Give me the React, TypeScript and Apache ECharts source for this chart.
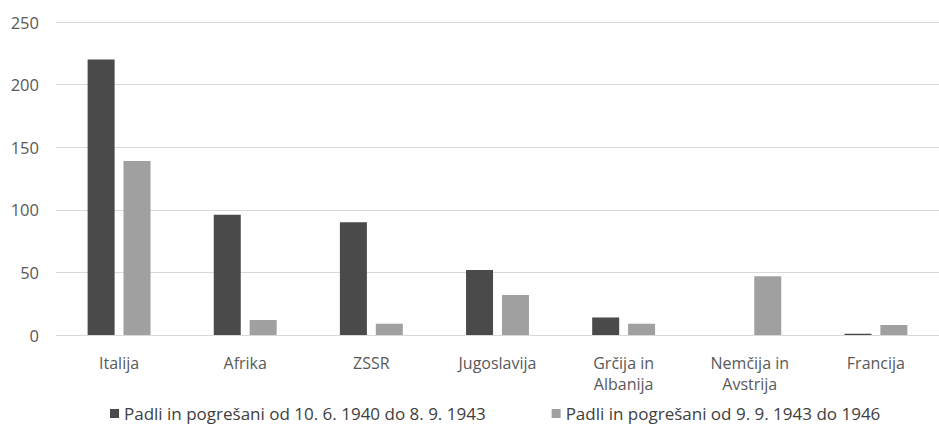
import React, { useEffect, useRef } from "react";
import * as echarts from "echarts";

const categories = [
  "Italija",
  "Afrika",
  "ZSSR",
  "Jugoslavija",
  "Grčija in\nAlbanija",
  "Nemčija in\nAvstrija",
  "Francija",
];
const seriesNames = [
  "Padli in pogrešani od 10. 6. 1940 do 8. 9. 1943",
  "Padli in pogrešani od 9. 9. 1943 do 1946",
];
const period1 = [220, 96, 90, 52, 14, 0, 1];
const period2 = [139, 12, 9, 32, 9, 47, 8];
const yTicks = [0, 50, 100, 150, 200, 250];

const FONT = "Open Sans";

export default function App() {
  const ref = useRef<HTMLDivElement>(null);
  useEffect(() => {
    if (!ref.current) return;
    const chart = echarts.init(ref.current, null, { renderer: "svg" });
    chart.setOption({
      animation: false,
      backgroundColor: "#ffffff",
      textStyle: { fontFamily: FONT },
      grid: { left: 56, right: 0, top: 22, bottom: 98, containLabel: false },
      legend: {
        top: 400,
        left: 105,
        icon: "rect",
        itemWidth: 9,
        itemHeight: 9,
        itemGap: 66,
        textStyle: { fontFamily: FONT, fontSize: 17, color: "#404040" },
        data: seriesNames,
      },
      xAxis: {
        type: "category",
        data: categories,
        axisLine: { show: true, lineStyle: { color: "#d9d9d9", width: 1 } },
        axisTick: { show: false },
        axisLabel: {
          fontFamily: FONT,
          fontSize: 16,
          color: "#595959",
          margin: 17,
          lineHeight: 21,
          interval: 0,
        },
      },
      yAxis: {
        type: "value",
        min: yTicks[0],
        max: yTicks[yTicks.length - 1],
        interval: 50,
        axisLine: { show: false },
        axisTick: { show: false },
        splitLine: { lineStyle: { color: "#d9d9d9", width: 1 } },
        axisLabel: { fontFamily: FONT, fontSize: 16.5, color: "#595959", margin: 17 },
      },
      series: [
        {
          name: seriesNames[0],
          type: "bar",
          data: period1,
          barWidth: 27,
          barGap: "33%",
          itemStyle: { color: "#4a4a4a" },
        },
        {
          name: seriesNames[1],
          type: "bar",
          data: period2,
          barWidth: 27,
          barGap: "33%",
          itemStyle: { color: "#a0a0a0" },
        },
      ],
    });
    return () => chart.dispose();
  }, []);
  return <div ref={ref} style={{ width: 939, height: 433, position: "absolute", left: 0, top: 0 }} />;
}
